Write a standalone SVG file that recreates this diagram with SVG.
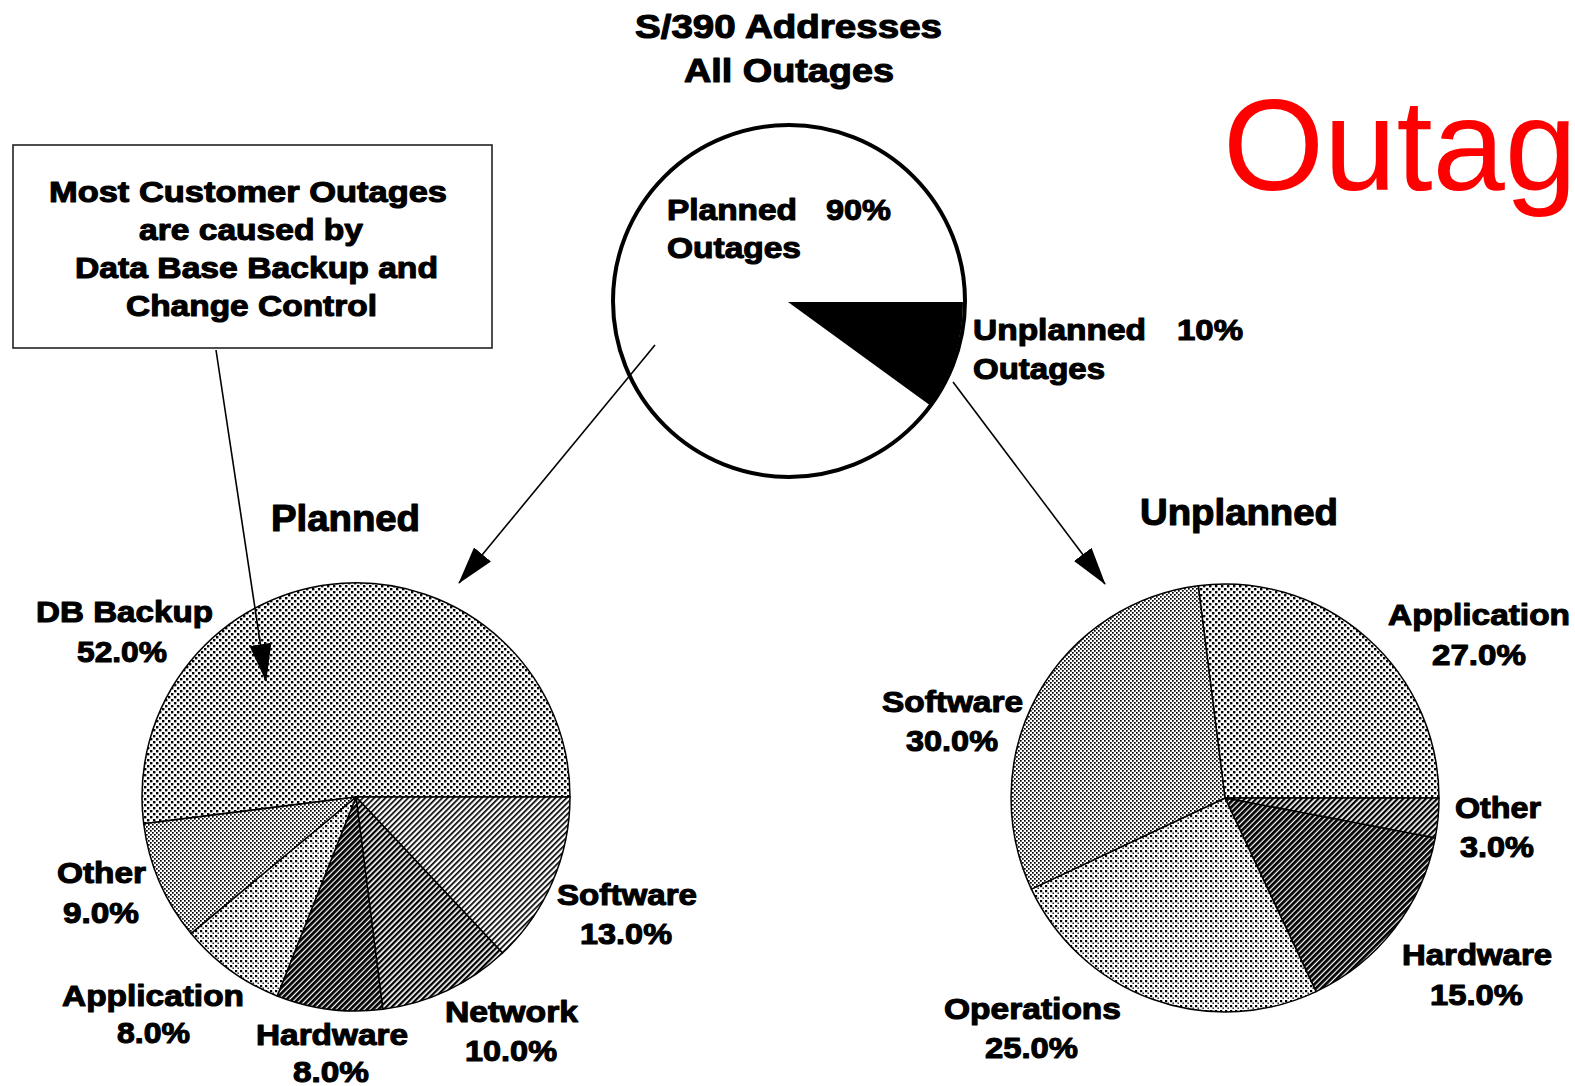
<svg xmlns="http://www.w3.org/2000/svg" width="1575" height="1086" viewBox="0 0 1575 1086">
<style>
.t{font-family:"Liberation Sans",Arial,sans-serif;font-weight:bold;fill:#000;stroke:#000;stroke-width:1.1;stroke-linejoin:round;font-size:30px}
.h{font-size:36px}
.ttl{font-size:33px}
.slice{stroke:#000;stroke-width:1.5;stroke-linejoin:round}
.conn{stroke:#000;stroke-width:1.6;fill:none}
</style>
<defs>
<marker id="ah" markerUnits="userSpaceOnUse" markerWidth="38" markerHeight="22" refX="37" refY="11" orient="auto">
<path d="M0,0 L38,11 L0,22 Z" fill="#000"/>
</marker>
<pattern id="pDots" width="6" height="6" patternUnits="userSpaceOnUse"><rect width="6" height="6" fill="#fff"/><rect x="0" y="0" width="2.4" height="2.4"/><rect x="3" y="3" width="2.4" height="2.4"/></pattern>
<pattern id="pDotsFine" width="4" height="4" patternUnits="userSpaceOnUse"><rect width="4" height="4" fill="#fff"/><rect width="1.7" height="1.7"/><rect x="2" y="2" width="1.7" height="1.7"/></pattern>
<pattern id="pDotsSq" width="5" height="5" patternUnits="userSpaceOnUse"><rect width="5" height="5" fill="#fff"/><rect width="2.2" height="2.2"/><rect x="2.5" y="2.5" width="1.4" height="1.4"/></pattern>
<pattern id="hDark" width="4" height="4" patternUnits="userSpaceOnUse" patternTransform="rotate(45)"><rect width="4" height="4" fill="#fff"/><rect width="2.8" height="4"/></pattern>
<pattern id="hMed" width="4" height="4" patternUnits="userSpaceOnUse" patternTransform="rotate(45)"><rect width="4" height="4" fill="#fff"/><rect width="2.3" height="4"/></pattern>
<pattern id="hLight" width="4" height="4" patternUnits="userSpaceOnUse" patternTransform="rotate(45)"><rect width="4" height="4" fill="#fff"/><rect width="1.7" height="4"/></pattern>
</defs>
<rect width="1575" height="1086" fill="#fff"/>

<g id="title">
<text class="t ttl" x="635" y="38" textLength="307" lengthAdjust="spacingAndGlyphs">S/390 Addresses</text>
<text class="t ttl" x="684" y="82" textLength="210" lengthAdjust="spacingAndGlyphs">All Outages</text>
</g>

<text id="outag" x="1223" y="190" font-family="Liberation Sans, Arial, sans-serif" font-size="130" fill="#ff0000">Outag</text>

<g id="note">
<rect x="13" y="145" width="479" height="203" fill="#fff" stroke="#222" stroke-width="1.6"/>
<text class="t" x="49" y="202" textLength="398" lengthAdjust="spacingAndGlyphs">Most Customer Outages</text>
<text class="t" x="139" y="240" textLength="224" lengthAdjust="spacingAndGlyphs">are caused by</text>
<text class="t" x="75" y="278" textLength="363" lengthAdjust="spacingAndGlyphs">Data Base Backup and</text>
<text class="t" x="126" y="316" textLength="251" lengthAdjust="spacingAndGlyphs">Change Control</text>
</g>

<g id="all-outages-pie">
<circle cx="789" cy="301" r="176" fill="#fff" stroke="#000" stroke-width="4"/>
<path d="M788,302 L963,302 A175,175 0 0 1 929.6,404.9 Z" fill="#000"/>
<text class="t" x="667" y="220" textLength="130" lengthAdjust="spacingAndGlyphs">Planned</text>
<text class="t" x="826" y="220" textLength="65" lengthAdjust="spacingAndGlyphs">90%</text>
<text class="t" x="667" y="258" textLength="134" lengthAdjust="spacingAndGlyphs">Outages</text>
<text class="t" x="973" y="340" textLength="173" lengthAdjust="spacingAndGlyphs">Unplanned</text>
<text class="t" x="1177" y="340" textLength="66" lengthAdjust="spacingAndGlyphs">10%</text>
<text class="t" x="973" y="379" textLength="132" lengthAdjust="spacingAndGlyphs">Outages</text>
</g>

<g id="planned-pie">
<text class="t h" x="271" y="531" textLength="149" lengthAdjust="spacingAndGlyphs">Planned</text>
<path class="slice" fill="url(#pDots)" d="M356,797 L143.7,823.8 A214,214 0 1 1 570,797 Z"/>
<path class="slice" fill="url(#hLight)" d="M356,797 L570,797 A214,214 0 0 1 502.5,953 Z"/>
<path class="slice" fill="url(#hMed)" d="M356,797 L502.5,953 A214,214 0 0 1 382.8,1009.3 Z"/>
<path class="slice" fill="url(#hDark)" d="M356,797 L382.8,1009.3 A214,214 0 0 1 277.2,996 Z"/>
<path class="slice" fill="url(#pDotsSq)" d="M356,797 L277.2,996 A214,214 0 0 1 191.1,933.4 Z"/>
<path class="slice" fill="url(#pDotsFine)" d="M356,797 L191.1,933.4 A214,214 0 0 1 143.7,823.8 Z"/>
<text class="t" x="36" y="622" textLength="177" lengthAdjust="spacingAndGlyphs">DB Backup</text>
<text class="t" x="77" y="662" textLength="90" lengthAdjust="spacingAndGlyphs">52.0%</text>
<text class="t" x="57" y="883" textLength="89" lengthAdjust="spacingAndGlyphs">Other</text>
<text class="t" x="63" y="923" textLength="76" lengthAdjust="spacingAndGlyphs">9.0%</text>
<text class="t" x="62" y="1006" textLength="182" lengthAdjust="spacingAndGlyphs">Application</text>
<text class="t" x="117" y="1043" textLength="73" lengthAdjust="spacingAndGlyphs">8.0%</text>
<text class="t" x="256" y="1045" textLength="152" lengthAdjust="spacingAndGlyphs">Hardware</text>
<text class="t" x="293" y="1082" textLength="76" lengthAdjust="spacingAndGlyphs">8.0%</text>
<text class="t" x="445" y="1022" textLength="133" lengthAdjust="spacingAndGlyphs">Network</text>
<text class="t" x="465" y="1061" textLength="92" lengthAdjust="spacingAndGlyphs">10.0%</text>
<text class="t" x="557" y="905" textLength="140" lengthAdjust="spacingAndGlyphs">Software</text>
<text class="t" x="580" y="944" textLength="92" lengthAdjust="spacingAndGlyphs">13.0%</text>
</g>

<g id="unplanned-pie">
<text class="t h" x="1140" y="525" textLength="198" lengthAdjust="spacingAndGlyphs">Unplanned</text>
<path class="slice" fill="url(#pDots)" d="M1225,798 L1198.2,585.7 A214,214 0 0 1 1439,798 Z"/>
<path class="slice" fill="url(#hMed)" d="M1225,798 L1439,798 A214,214 0 0 1 1435.2,838.1 Z"/>
<path class="slice" fill="url(#hDark)" d="M1225,798 L1435.2,838.1 A214,214 0 0 1 1316.1,991.6 Z"/>
<path class="slice" fill="url(#pDotsSq)" d="M1225,798 L1316.1,991.6 A214,214 0 0 1 1031.4,889.1 Z"/>
<path class="slice" fill="url(#pDotsFine)" d="M1225,798 L1031.4,889.1 A214,214 0 0 1 1198.2,585.7 Z"/>
<text class="t" x="1388" y="625" textLength="182" lengthAdjust="spacingAndGlyphs">Application</text>
<text class="t" x="1432" y="665" textLength="94" lengthAdjust="spacingAndGlyphs">27.0%</text>
<text class="t" x="882" y="712" textLength="141" lengthAdjust="spacingAndGlyphs">Software</text>
<text class="t" x="906" y="751" textLength="92" lengthAdjust="spacingAndGlyphs">30.0%</text>
<text class="t" x="1455" y="818" textLength="86" lengthAdjust="spacingAndGlyphs">Other</text>
<text class="t" x="1460" y="857" textLength="74" lengthAdjust="spacingAndGlyphs">3.0%</text>
<text class="t" x="1402" y="965" textLength="150" lengthAdjust="spacingAndGlyphs">Hardware</text>
<text class="t" x="1430" y="1005" textLength="93" lengthAdjust="spacingAndGlyphs">15.0%</text>
<text class="t" x="944" y="1019" textLength="177" lengthAdjust="spacingAndGlyphs">Operations</text>
<text class="t" x="985" y="1058" textLength="93" lengthAdjust="spacingAndGlyphs">25.0%</text>
</g>

<g id="connectors">
<line class="conn" x1="216" y1="350" x2="266" y2="681" marker-end="url(#ah)" stroke-width="2"/>
<line class="conn" x1="655" y1="345" x2="459" y2="583" marker-end="url(#ah)"/>
<line class="conn" x1="953" y1="382" x2="1105" y2="584" marker-end="url(#ah)"/>
</g>
</svg>
